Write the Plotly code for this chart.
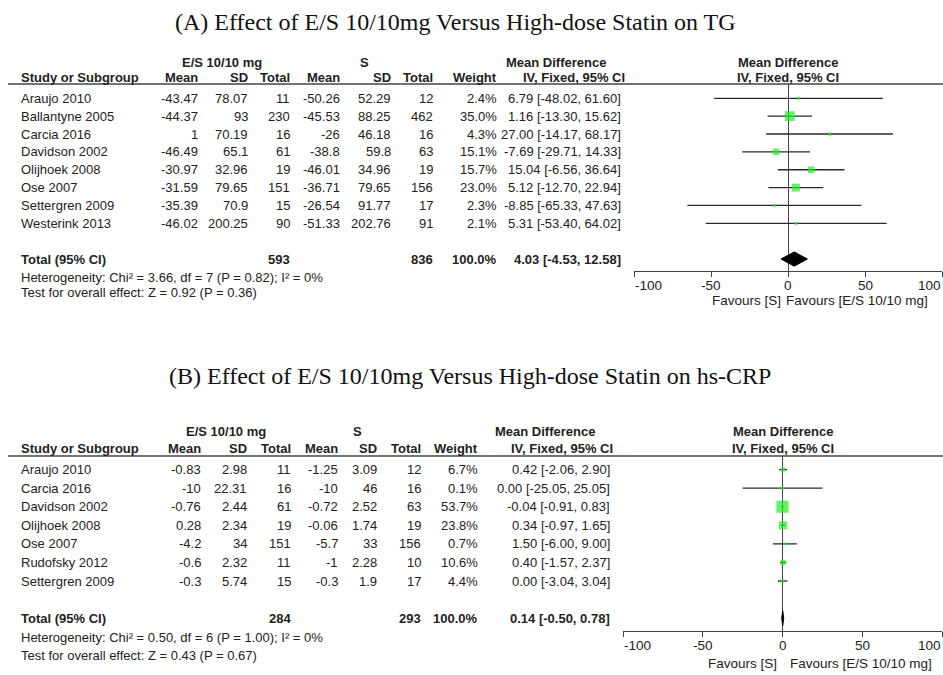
import plotly.graph_objects as go
import math

W, H = 943, 675

# ---------------- Data: (A) TG ----------------
studiesA = ["Araujo 2010", "Ballantyne 2005", "Carcia 2016", "Davidson 2002",
            "Olijhoek 2008", "Ose 2007", "Settergren 2009", "Westerink 2013"]
es_meanA = [-43.47, -44.37, 1, -46.49, -30.97, -31.59, -35.39, -46.02]
es_sdA = [78.07, 93, 70.19, 65.1, 32.96, 79.65, 70.9, 200.25]
es_nA = [11, 230, 16, 61, 19, 151, 15, 90]
s_meanA = [-50.26, -45.53, -26, -38.8, -46.01, -36.71, -26.54, -51.33]
s_sdA = [52.29, 88.25, 46.18, 59.8, 34.96, 79.65, 91.77, 202.76]
s_nA = [12, 462, 16, 63, 19, 156, 17, 91]
weightA = [2.4, 35.0, 4.3, 15.1, 15.7, 23.0, 2.3, 2.1]
mdA = [6.79, 1.16, 27.00, -7.69, 15.04, 5.12, -8.85, 5.31]
loA = [-48.02, -13.30, -14.17, -29.71, -6.56, -12.70, -65.33, -53.40]
hiA = [61.60, 15.62, 68.17, 14.33, 36.64, 22.94, 47.63, 64.02]
totalA = dict(n_es=593, n_s=836, w=100.0, md=4.03, lo=-4.53, hi=12.58)
hetA = "Heterogeneity: Chi² = 3.66, df = 7 (P = 0.82); I² = 0%"
testA = "Test for overall effect: Z = 0.92 (P = 0.36)"
titleA = "(A) Effect of E/S 10/10mg Versus High-dose Statin on TG"

# ---------------- Data: (B) hs-CRP ----------------
studiesB = ["Araujo 2010", "Carcia 2016", "Davidson 2002", "Olijhoek 2008",
            "Ose 2007", "Rudofsky 2012", "Settergren 2009"]
es_meanB = [-0.83, -10, -0.76, 0.28, -4.2, -0.6, -0.3]
es_sdB = [2.98, 22.31, 2.44, 2.34, 34, 2.32, 5.74]
es_nB = [11, 16, 61, 19, 151, 11, 15]
s_meanB = [-1.25, -10, -0.72, -0.06, -5.7, -1, -0.3]
s_sdB = [3.09, 46, 2.52, 1.74, 33, 2.28, 1.9]
s_nB = [12, 16, 63, 19, 156, 10, 17]
weightB = [6.7, 0.1, 53.7, 23.8, 0.7, 10.6, 4.4]
mdB = [0.42, 0.00, -0.04, 0.34, 1.50, 0.40, 0.00]
loB = [-2.06, -25.05, -0.91, -0.97, -6.00, -1.57, -3.04]
hiB = [2.90, 25.05, 0.83, 1.65, 9.00, 2.37, 3.04]
totalB = dict(n_es=284, n_s=293, w=100.0, md=0.14, lo=-0.50, hi=0.78)
hetB = "Heterogeneity: Chi² = 0.50, df = 6 (P = 1.00); I² = 0%"
testB = "Test for overall effect: Z = 0.43 (P = 0.67)"
titleB = "(B) Effect of E/S 10/10mg Versus High-dose Statin on hs-CRP"

x_ticks = [-100, -50, 0, 50, 100]
x_ticklabels = ["-100", "-50", "0", "50", "100"]

# ---------------- Styling ----------------
SANS = "Arial, Liberation Sans, sans-serif"
SERIF = "Times New Roman, Liberation Serif, serif"
TXT = "#222222"
LINE = "#444444"
GREEN = "#22ee22"
FS = 13


def py(p):
    return 1 - p / H


def px(p):
    return p / W


fig = go.Figure()
annotations = []
shapes = []


def add_txt(x, y, s, anchor="left", bold=False, yref="paper", xref="paper",
            size=FS, font=SANS, xshift=0):
    annotations.append(dict(
        x=x, y=y, xref=xref, yref=yref, text=f"<b>{s}</b>" if bold else s,
        showarrow=False, xanchor=anchor, yanchor="middle", xshift=xshift,
        borderpad=0,
        font=dict(family=font, size=size, color=TXT if font == SANS else "#111")))


def panel(k, studies, es_mean, es_sd, es_n, s_mean, s_sd, s_n, weight, md, lo, hi,
          tot, het, test, title, cols, hdr, geom):
    xa = "x" if k == 1 else "x2"
    ya = "y" if k == 1 else "y2"
    yref = ya
    n = len(studies)
    total_row = n + 1

    # title
    add_txt(px(geom["title_x"]), py(geom["title_y"]), title, anchor="center",
            size=24, font=SERIF)
    # group headers
    add_txt(px(hdr["es"]), py(geom["h1"]), "E/S 10/10 mg", "center", True)
    add_txt(px(hdr["s"]), py(geom["h1"]), "S", "center", True)
    add_txt(px(hdr["md"]), py(geom["h1"]), "Mean Difference", "center", True)
    add_txt(px(hdr["ci"]), py(geom["h2"]), "IV, Fixed, 95% CI", "center", True)
    add_txt(0, py(geom["h1"]), "Mean Difference", "center", True, xref=xa)
    add_txt(0, py(geom["h2"]), "IV, Fixed, 95% CI", "center", True, xref=xa)
    add_txt(px(20), py(geom["h2"]), "Study or Subgroup", "left", True)
    for name, c in zip(["Mean", "SD", "Total", "Mean", "SD", "Total", "Weight"], cols[:7]):
        add_txt(px(c), py(geom["h2"]), name, "right", True)

    # rows
    for i in range(n):
        add_txt(px(20), i, studies[i], "left", yref=yref)
        vals = [f"{es_mean[i]:g}", f"{es_sd[i]:g}", f"{es_n[i]}",
                f"{s_mean[i]:g}", f"{s_sd[i]:g}", f"{s_n[i]}",
                f"{weight[i]:.1f}%", f"{md[i]:.2f} [{lo[i]:.2f}, {hi[i]:.2f}]"]
        for v, c in zip(vals, cols):
            add_txt(px(c), i, v, "right", yref=yref)
    # total row
    add_txt(px(20), total_row, "Total (95% CI)", "left", True, yref=yref)
    add_txt(px(cols[2]), total_row, f"{tot['n_es']}", "right", True, yref=yref)
    add_txt(px(cols[5]), total_row, f"{tot['n_s']}", "right", True, yref=yref)
    add_txt(px(cols[6]), total_row, f"{tot['w']:.1f}%", "right", True, yref=yref)
    add_txt(px(cols[7]), total_row,
            f"{tot['md']:.2f} [{tot['lo']:.2f}, {tot['hi']:.2f}]", "right", True, yref=yref)
    add_txt(px(20), py(geom["het"]), het, "left")
    add_txt(px(20), py(geom["test"]), test, "left")

    # tick labels (end labels held inside the axis span, as in the original)
    for j, (tv, tl) in enumerate(zip(x_ticks, x_ticklabels)):
        anc = "left" if j == 0 else ("right" if j == len(x_ticks) - 1 else "center")
        add_txt(tv, py(geom["tick"]), tl, anc, xref=xa, size=13.5)
    # favours
    add_txt(0, py(geom["fav"]), "Favours [S]", "right", xref=xa,
            xshift=geom["fav_l"], size=13.5)
    add_txt(0, py(geom["fav"]), "Favours [E/S 10/10 mg]", "left", xref=xa,
            xshift=geom["fav_r"], size=13.5)

    # header rule
    shapes.append(dict(type="line", xref="paper", yref="paper",
                       x0=px(8), x1=1, y0=py(geom["rule"]), y1=py(geom["rule"]),
                       line=dict(color=LINE, width=1.5)))

    # CI lines + squares
    rows = list(range(n))
    fig.add_trace(go.Scatter(
        x=md, y=rows, xaxis=xa, yaxis=ya, mode="markers",
        marker=dict(symbol="square", color=GREEN,
                    size=[max(3, 1.65 * math.sqrt(w)) for w in weight],
                    line=dict(width=0)),
        error_x=dict(type="data", symmetric=False,
                     array=[h - m for h, m in zip(hi, md)],
                     arrayminus=[m - l for m, l in zip(md, lo)],
                     color="#2a2a2a", thickness=1.3, width=0),
        cliponaxis=False, hoverinfo="skip"))
    # diamond
    hh = 0.4
    fig.add_trace(go.Scatter(
        x=[tot["lo"], tot["md"], tot["hi"], tot["md"], tot["lo"]],
        y=[total_row, total_row - hh, total_row, total_row + hh, total_row],
        xaxis=xa, yaxis=ya, mode="lines", fill="toself", fillcolor="#000000",
        line=dict(color="#000000", width=1), hoverinfo="skip"))


geomA = dict(title_x=455, title_y=22, h1=62.5, h2=77.5, rule=84, het=277, test=292,
             tick=285.5, fav=300.5, fav_l=-6, fav_r=-3)
geomB = dict(title_x=470, title_y=376, h1=431, h2=448, rule=456, het=637, test=655,
             tick=645, fav=663.5, fav_l=-5, fav_r=6)
colsA = [199, 249, 291, 341, 392, 434, 498, 622]
colsB = [202, 248, 292, 339, 378, 422, 479, 611]
hdrA = dict(es=222, s=364, md=556, ci=574)
hdrB = dict(es=226, s=357, md=545, ci=562)

panel(1, studiesA, es_meanA, es_sdA, es_nA, s_meanA, s_sdA, s_nA, weightA,
      mdA, loA, hiA, totalA, hetA, testA, titleA, colsA, hdrA, geomA)
panel(2, studiesB, es_meanB, es_sdB, es_nB, s_meanB, s_sdB, s_nB, weightB,
      mdB, loB, hiB, totalB, hetB, testB, titleB, colsB, hdrB, geomB)

axis_common = dict(range=[-100, 100], tickvals=x_ticks, showticklabels=False,
                   ticks="outside", ticklen=5,
                   tickcolor=LINE, tickwidth=1.3, showline=True, linecolor=LINE,
                   linewidth=1.3, showgrid=False, zeroline=True, zerolinecolor=LINE,
                   zerolinewidth=1.3, fixedrange=True)
overlay_common = dict(range=[-100, 100], tickvals=x_ticks, ticks="inside", ticklen=5,
                      tickcolor=LINE, tickwidth=1.3, showline=False, showgrid=False,
                      zeroline=False, showticklabels=False, fixedrange=True)

fig.update_layout(
    width=W, height=H, margin=dict(l=0, r=0, t=0, b=0),
    paper_bgcolor="white", plot_bgcolor="rgba(0,0,0,0)", showlegend=False,
    xaxis=dict(domain=[634 / W, 942 / W], anchor="y", **axis_common),
    yaxis=dict(domain=[py(271), py(84)], range=[9.67, -0.8], visible=False,
               anchor="x", fixedrange=True),
    xaxis2=dict(domain=[623 / W, 942 / W], anchor="y2", **axis_common),
    yaxis2=dict(domain=[py(631), py(456)], range=[8.69, -0.73], visible=False,
                anchor="x2", fixedrange=True),
    xaxis3=dict(overlaying="x", anchor="y", **overlay_common),
    xaxis4=dict(overlaying="x2", anchor="y2", **overlay_common),
    annotations=annotations, shapes=shapes,
)

fig.write_html("out.html", config={"displayModeBar": False},
               post_script="document.body.style.margin='0px';"
                           "document.body.style.overflow='hidden';")
